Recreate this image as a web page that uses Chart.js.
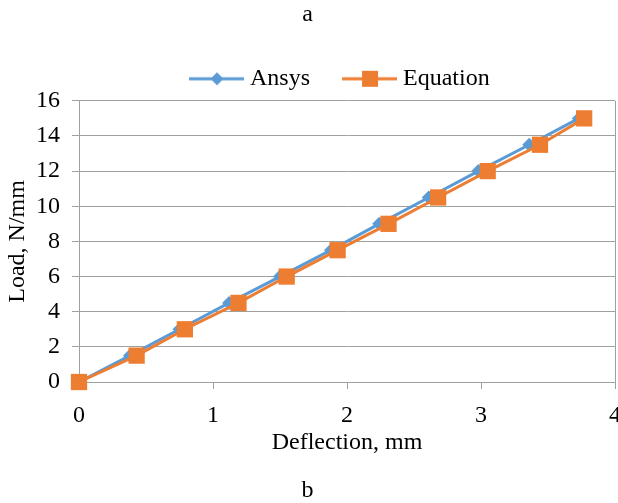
<!DOCTYPE html>
<html>
<head>
<meta charset="utf-8">
<script src="https://cdn.jsdelivr.net/npm/chart.js@4.4.1/dist/chart.umd.min.js"></script>
<style>
html,body{margin:0;padding:0;background:#fff;}
#wrap{width:618px;height:503px;position:relative;}
</style>
</head>
<body>
<div id="wrap"><canvas id="c" width="618" height="503"></canvas></div>
<script>
const ansysDeflection = [0, 0.38, 0.75, 1.12, 1.50, 1.88, 2.24, 2.61, 2.98, 3.36, 3.73];
const ansysLoad       = [0, 1.5, 3, 4.5, 6, 7.5, 9, 10.5, 12, 13.5, 15];
const eqDeflection    = [0, 0.43, 0.79, 1.19, 1.55, 1.93, 2.31, 2.68, 3.05, 3.44, 3.77];
const eqLoad          = [0, 1.5, 3, 4.5, 6, 7.5, 9, 10.5, 12, 13.5, 15];
const xTickValues = [0, 1, 2, 3, 4];
const yTickValues = [0, 2, 4, 6, 8, 10, 12, 14, 16];
const seriesNames = ['Ansys', 'Equation'];
const topLabel = 'a';
const bottomLabel = 'b';
const xTitle = 'Deflection, mm';
const yTitle = 'Load, N/mm';

const BLUE = '#5B9BD5', ORANGE = '#ED7D31', GRID = '#A0A0A0';
const FONT = "'Liberation Serif', 'Times New Roman', serif";

function pts(xs, ys){ return xs.map((x,i)=>({x, y: ys[i]})); }

// legend icon: transparent lead-in, then line with marker
function legendIcon(color, shape){
  const c = document.createElement('canvas');
  c.width = 83; c.height = 18;
  const g = c.getContext('2d');
  g.strokeStyle = color; g.lineWidth = 3;
  g.beginPath(); g.moveTo(27, 9); g.lineTo(82, 9); g.stroke();
  g.fillStyle = color;
  const cx = 55;
  if (shape === 'diamond'){
    g.beginPath(); g.moveTo(cx, 2.5); g.lineTo(cx + 6.5, 9); g.lineTo(cx, 15.5); g.lineTo(cx - 6.5, 9); g.closePath(); g.fill();
  } else {
    g.fillRect(cx - 8, 1, 16, 16);
  }
  return c;
}
const icons = [legendIcon(BLUE,'diamond'), legendIcon(ORANGE,'square')];

const frame = {
  id: 'frame',
  afterLayout(chart){
    const lg = chart.legend;
    if (lg && lg.lineWidths){
      const pad = lg.options.labels.padding;
      const cx = (lg.left + pad + lg.right - lg.lineWidths[0]) / 2;
      const dx = 169 - cx;
      lg.left += dx; lg.right += dx;
    }
  },
  beforeDatasetsDraw(chart){
    const {ctx, chartArea: a} = chart;
    ctx.save();
    ctx.strokeStyle = GRID; ctx.lineWidth = 1;
    ctx.beginPath();
    ctx.moveTo(Math.round(a.right)+0.5, a.top); ctx.lineTo(Math.round(a.right)+0.5, a.bottom);
    ctx.stroke();
    ctx.restore();
  }
};

new Chart(document.getElementById('c'), {
  type: 'scatter',
  data: {
    datasets: [
      {
        label: seriesNames[0],
        data: pts(ansysDeflection, ansysLoad),
        showLine: true,
        clip: false,
        borderColor: BLUE, backgroundColor: BLUE,
        borderWidth: 3,
        pointStyle: 'rectRot', pointRadius: 7, pointHoverRadius: 7,
        pointBorderWidth: 0,
        order: 1
      },
      {
        label: seriesNames[1],
        data: pts(eqDeflection, eqLoad),
        showLine: true,
        clip: false,
        borderColor: ORANGE, backgroundColor: ORANGE,
        borderWidth: 3,
        pointStyle: 'rect', pointRadius: 11.5, pointHoverRadius: 11.5,
        pointBorderWidth: 0,
        order: 0
      }
    ]
  },
  options: {
    responsive: false,
    animation: false,
    layout: { autoPadding: false, padding: { left: 0, right: 3, top: 0, bottom: 0 } },
    plugins: {
      title: { display: true, text: topLabel, color: '#000', font: { family: FONT, size: 24, weight: 'normal', lineHeight: 1.2 }, padding: { top: 0, bottom: 26 } },
      subtitle: { display: true, text: bottomLabel, position: 'bottom', color: '#000', font: { family: FONT, size: 24, weight: 'normal', lineHeight: 1.0 }, padding: { top: 24, bottom: 0 } },
      legend: {
        display: true,
        position: 'top',
        labels: {
          usePointStyle: true,
          pointStyleWidth: 69,
          boxHeight: 24,
          padding: 12,
          color: '#000',
          font: { family: FONT, size: 24 },
          generateLabels(chart){
            return chart.data.datasets.map((d, i) => ({
              text: d.label, pointStyle: icons[i], fillStyle: d.borderColor, strokeStyle: d.borderColor,
              lineWidth: 0, hidden: false, datasetIndex: i, fontColor: '#000'
            }));
          }
        }
      },
      tooltip: { enabled: false }
    },
    scales: {
      x: {
        type: 'linear', min: 0, max: 4,
        afterBuildTicks(s){ s.ticks = xTickValues.map(v => ({value: v})); },
        afterFit(s){ s.paddingRight = 0; s.paddingLeft = 0; s.height = 73; },
        grid: { display: true, drawOnChartArea: false, drawTicks: true, tickLength: 7, color: GRID },
        border: { display: true, color: GRID, width: 1 },
        ticks: { color: '#000', font: { family: FONT, size: 24 }, padding: 12, maxRotation: 0 },
        title: { display: true, text: xTitle, color: '#000', font: { family: FONT, size: 24, lineHeight: 1.0 }, padding: { top: 0, bottom: 0 } }
      },
      y: {
        type: 'linear', min: 0, max: 16,
        afterBuildTicks(s){ s.ticks = yTickValues.map(v => ({value: v})); },
        afterFit(s){ s.width = 79; },
        grid: { display: true, drawOnChartArea: true, drawTicks: true, tickLength: 7, color: GRID },
        border: { display: true, color: GRID, width: 1 },
        ticks: { color: '#000', font: { family: FONT, size: 24 }, padding: 12 },
        title: { display: true, text: yTitle, color: '#000', font: { family: FONT, size: 24 }, padding: { top: 3, bottom: 0 } }
      }
    }
  },
  plugins: [frame]
});
</script>
</body>
</html>
